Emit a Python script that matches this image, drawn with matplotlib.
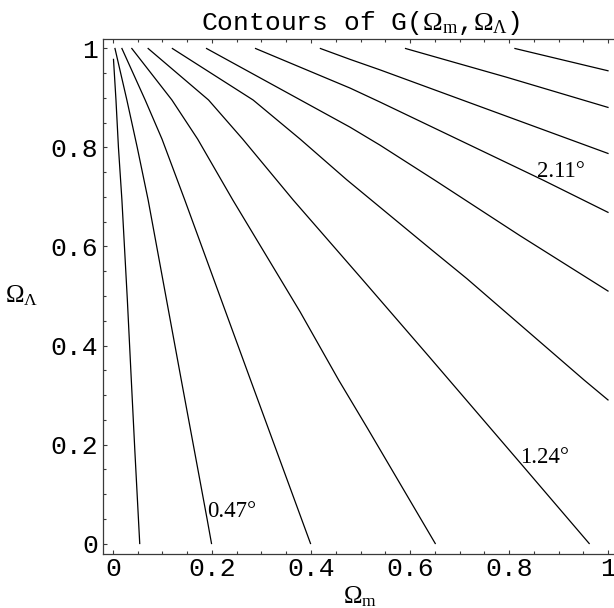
import matplotlib.pyplot as plt
from matplotlib.ticker import MultipleLocator

# --- contour lines of G(Omega_m, Omega_Lambda): Omega_m / Omega_Lambda pairs ---
om_1 = [0.001, 0.006, 0.011, 0.018, 0.029, 0.037, 0.044, 0.054]
ol_1 = [0.978, 0.896, 0.800, 0.694, 0.492, 0.330, 0.190, 0.000]
om_2 = [0.004, 0.028, 0.049, 0.071, 0.138, 0.190, 0.199]
ol_2 = [1.000, 0.896, 0.800, 0.694, 0.330, 0.050, 0.000]
om_3 = [0.018, 0.065, 0.099, 0.145, 0.278, 0.399]
ol_3 = [1.000, 0.896, 0.817, 0.694, 0.330, 0.000]
om_4 = [0.038, 0.119, 0.171, 0.242, 0.378, 0.456, 0.514, 0.651]
ol_4 = [1.000, 0.896, 0.817, 0.694, 0.468, 0.330, 0.233, 0.000]
om_5 = [0.071, 0.193, 0.262, 0.364, 0.505, 0.639, 0.826, 0.962]
ol_5 = [1.000, 0.896, 0.817, 0.694, 0.532, 0.377, 0.159, 0.000]
om_6 = [0.120, 0.283, 0.378, 0.472, 0.644, 0.715, 0.952, 1.000]
ol_6 = [1.000, 0.896, 0.817, 0.735, 0.593, 0.535, 0.330, 0.290]
om_7 = [0.189, 0.479, 0.539, 0.650, 0.822, 1.000]
ol_7 = [1.000, 0.841, 0.805, 0.734, 0.622, 0.510]
om_8 = [0.288, 0.479, 0.539, 0.869, 1.000]
ol_8 = [1.000, 0.920, 0.892, 0.734, 0.669]
om_9 = [0.419, 0.479, 0.539, 1.000]
ol_9 = [1.000, 0.978, 0.957, 0.788]
om_10 = [0.591, 0.795, 1.000]
ol_10 = [1.000, 0.942, 0.881]
om_11 = [0.812, 1.000]
ol_11 = [1.000, 0.955]

# angle values written next to three of the contours (line number -> text)
level_lines = [2, 5, 8]
level_text = ['0.47°', '1.24°', '2.11°']

tick_values = [0, 0.2, 0.4, 0.6, 0.8, 1]
tick_labels = ['0', '0.2', '0.4', '0.6', '0.8', '1']

plt.rcParams['mathtext.fontset'] = 'custom'
plt.rcParams['mathtext.rm'] = 'Liberation Serif'
plt.rcParams['mathtext.it'] = 'Liberation Serif:italic'
plt.rcParams['mathtext.bf'] = 'Liberation Serif:bold'

fig = plt.figure(figsize=(6.14, 6.08), dpi=100)
# frame runs slightly past 1 on the right, like the Mathematica export
ax = fig.add_axes([103 / 614, 54.5 / 608, 515 / 614, 515 / 608])

lines_om = [om_1, om_2, om_3, om_4, om_5, om_6, om_7, om_8, om_9, om_10, om_11]
lines_ol = [ol_1, ol_2, ol_3, ol_4, ol_5, ol_6, ol_7, ol_8, ol_9, ol_10, ol_11]
for xs, ys in zip(lines_om, lines_ol):
    ax.plot(xs, ys, color='black', lw=0.9, solid_joinstyle='round')

# labels sit just right of their contour
label_pos = {2: (0.190, 0.054), 5: (0.823, 0.163), 8: (0.857, 0.740)}
for n, txt in zip(level_lines, level_text):
    x, y = label_pos[n]
    ax.text(x, y, txt, family='Liberation Serif', fontsize=16.5,
            ha='left', va='baseline')

ax.set_xlim(-0.0202, 1.0202)
ax.set_ylim(-0.0202, 1.0202)

ax.set_xticks(tick_values)
ax.set_xticklabels(tick_labels)
ax.set_yticks(tick_values)
ax.set_yticklabels(tick_labels)
ax.xaxis.set_minor_locator(MultipleLocator(0.05))
ax.yaxis.set_minor_locator(MultipleLocator(0.05))

spine_col = '#3a3a3a'
for side in ['left', 'bottom', 'top']:
    ax.spines[side].set_color(spine_col)
    ax.spines[side].set_linewidth(0.9)
ax.spines['right'].set_visible(False)

ax.tick_params(which='both', direction='in', top=True, right=False,
               color=spine_col, width=0.8)
ax.tick_params(which='major', length=3.2)
ax.tick_params(which='minor', length=2.0)
ax.tick_params(axis='x', pad=2.5)
ax.tick_params(axis='y', pad=3.5)
for lab in ax.get_xticklabels() + ax.get_yticklabels():
    lab.set_family('Liberation Mono')
    lab.set_fontsize(19)

ax.set_title(r'Contours of G($\Omega_\mathrm{m}$,$\Omega_\Lambda$)',
             family='Liberation Mono', fontsize=19, pad=6)

ax.set_xlabel(r'$\Omega_\mathrm{m}$', fontsize=18)
ax.xaxis.set_label_coords(0.5, -0.084)
ax.xaxis.label.set_va('center')
ax.set_ylabel(r'$\Omega_\Lambda$', fontsize=18, rotation=0)
ax.yaxis.set_label_coords(-0.157, 0.5)
ax.yaxis.label.set_va('center')
ax.yaxis.label.set_ha('center')

plt.savefig('out.png', dpi=100)
